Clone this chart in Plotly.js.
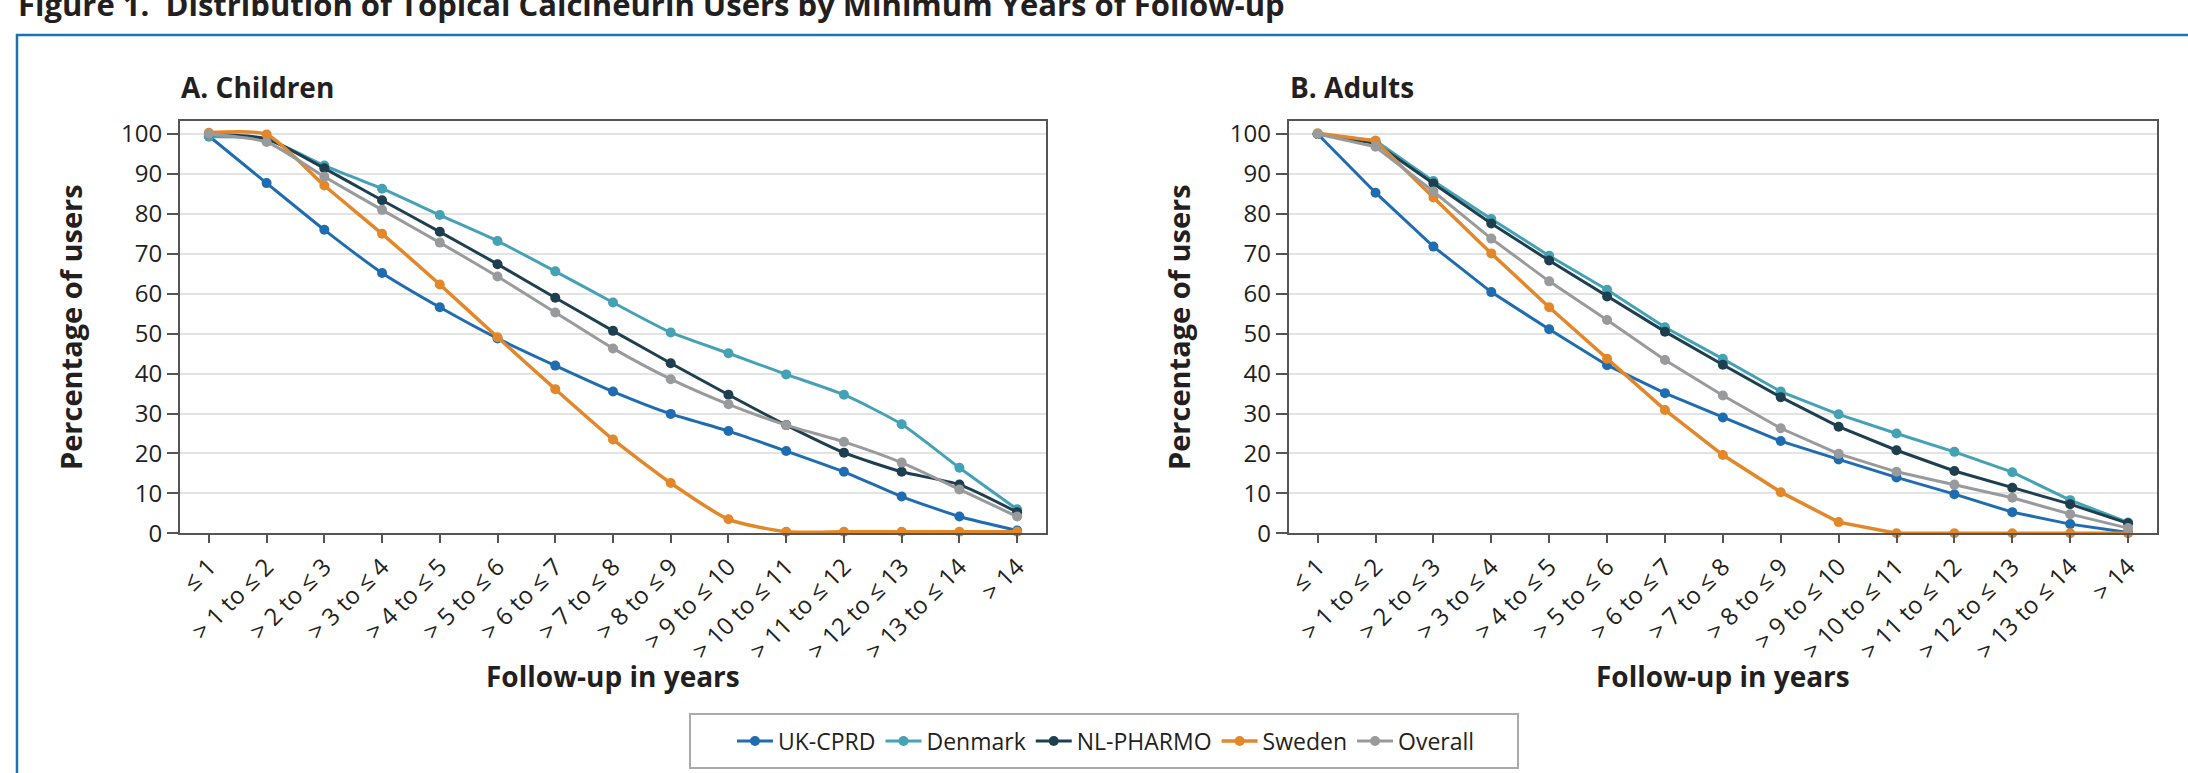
<!DOCTYPE html>
<html>
<head>
<meta charset="utf-8">
<script src="https://cdn.plot.ly/plotly-3.0.1.min.js"></script>
<style>html,body{margin:0;padding:0;background:#fff;}#chart{width:2188px;height:773px;}</style>
</head>
<body>
<div id="chart"></div>
<script>
// ---- data ----
const categories = ['≤ 1','> 1 to ≤ 2','> 2 to ≤ 3','> 3 to ≤ 4','> 4 to ≤ 5','> 5 to ≤ 6','> 6 to ≤ 7','> 7 to ≤ 8','> 8 to ≤ 9','> 9 to ≤ 10','> 10 to ≤ 11','> 11 to ≤ 12','> 12 to ≤ 13','> 13 to ≤ 14','> 14'];
const seriesNames = ['UK-CPRD','Denmark','NL-PHARMO','Sweden','Overall'];

const childrenUK      = [99.5, 87.7, 76.0, 65.2, 56.6, 48.8, 42.0, 35.5, 29.9, 25.6, 20.6, 15.4, 9.2, 4.2, 0.7];
const childrenDenmark = [99.3, 98.7, 92.1, 86.3, 79.7, 73.2, 65.6, 57.8, 50.3, 45.1, 39.8, 34.7, 27.3, 16.4, 6.0];
const childrenNL      = [100.0, 98.8, 91.4, 83.4, 75.5, 67.4, 59.0, 50.7, 42.6, 34.7, 27.1, 20.2, 15.4, 12.2, 5.3];
const childrenSweden  = [100.3, 99.9, 87.1, 75.0, 62.3, 49.1, 36.1, 23.5, 12.6, 3.5, 0.4, 0.4, 0.4, 0.4, 0.4];
const childrenOverall = [100.0, 98.0, 89.3, 81.0, 72.8, 64.3, 55.3, 46.3, 38.6, 32.3, 27.1, 22.9, 17.7, 11.0, 4.2];

const adultsUK      = [100.0, 85.3, 71.8, 60.4, 51.1, 42.1, 35.1, 29.0, 23.1, 18.5, 14.0, 9.8, 5.3, 2.3, 0.2];
const adultsDenmark = [100.0, 98.3, 88.2, 78.7, 69.5, 61.0, 51.6, 43.7, 35.5, 29.8, 25.0, 20.4, 15.3, 8.3, 2.7];
const adultsNL      = [100.0, 97.7, 87.6, 77.6, 68.3, 59.3, 50.5, 42.2, 34.1, 26.7, 20.8, 15.6, 11.4, 7.3, 2.5];
const adultsSweden  = [100.2, 98.3, 84.1, 70.1, 56.6, 43.7, 30.9, 19.6, 10.3, 2.8, 0.0, 0.0, 0.0, 0.0, 0.0];
const adultsOverall = [100.0, 96.8, 85.6, 73.8, 63.1, 53.4, 43.4, 34.5, 26.3, 19.9, 15.4, 12.2, 8.9, 4.8, 1.3];

const yTickVals = [0,10,20,30,40,50,60,70,80,90,100];
const panelTitles = ['A. Children','B. Adults'];
const xTitle = 'Follow-up in years';
const yTitle = 'Percentage of users';
const figTitle = 'Figure 1.  Distribution of Topical Calcineurin Users by Minimum Years of Follow-up';

// ---- styling ----
const colors = {'UK-CPRD':'#1f6db0','Denmark':'#45a2b4','NL-PHARMO':'#1d3f4f','Sweden':'#e3882a','Overall':'#999a9c'};
const W = 2188, H = 773;
const px = x => x / W;
const py = y => 1 - y / H;
const FONT = 'Open Sans, Lato, sans-serif';
const TXT = '#231f20';

const childrenData = [childrenUK, childrenDenmark, childrenNL, childrenSweden, childrenOverall];
const adultsData = [adultsUK, adultsDenmark, adultsNL, adultsSweden, adultsOverall];

const traces = [];
seriesNames.forEach((name, i) => {
  const lw = name === 'Sweden' ? 3.5 : 3;
  traces.push({
    type:'scatter', mode:'lines+markers', name:name, x:categories, y:childrenData[i],
    xaxis:'x', yaxis:'y', legendgroup:name, showlegend:true,
    line:{color:colors[name], width:lw, shape:'spline', smoothing:0.6},
    marker:{color:colors[name], size:10, symbol:'circle'}, cliponaxis:false
  });
});
seriesNames.forEach((name, i) => {
  const lw = name === 'Sweden' ? 3.5 : 3;
  traces.push({
    type:'scatter', mode:'lines+markers', name:name, x:categories, y:adultsData[i],
    xaxis:'x2', yaxis:'y2', legendgroup:name, showlegend:false,
    line:{color:colors[name], width:lw},
    marker:{color:colors[name], size:10, symbol:'circle'}, cliponaxis:false
  });
});

const yTop = 120.7, yBot = 533.3;
const yRange = [0, 100 * (yBot - yTop) / (yBot - 134)];

function xAxis(domain){
  return {
    domain:domain, type:'category', range:[-0.5, 14.5], automargin:false,
    showline:true, mirror:true, linecolor:'#555', linewidth:2,
    ticks:'outside', ticklen:8, tickwidth:2, tickcolor:'#555',
    tickangle:-45, tickfont:{family:FONT, size:24, color:TXT},
    showgrid:false, zeroline:false, fixedrange:true
  };
}
function yAxis(anchor){
  return {
    domain:[py(yBot), py(yTop)], anchor:anchor, range:yRange, automargin:false,
    tickvals:yTickVals, showline:true, mirror:true, linecolor:'#555', linewidth:2,
    ticks:'outside', ticklen:11, tickwidth:2, tickcolor:'#555',
    tickfont:{family:FONT, size:24, color:TXT},
    showgrid:true, gridcolor:'#e3e3e3', gridwidth:2, zeroline:false, fixedrange:true
  };
}

const L1 = 180, R1 = 1046, L2 = 1288.7, R2 = 2157;

const layout = {
  width:W, height:H, margin:{l:0,r:0,t:0,b:0,pad:0},
  paper_bgcolor:'#ffffff', plot_bgcolor:'#ffffff',
  font:{family:FONT, color:TXT},
  xaxis:Object.assign(xAxis([px(L1), px(R1)]), {anchor:'y'}),
  yaxis:yAxis('x'),
  xaxis2:Object.assign(xAxis([px(L2), px(R2)]), {anchor:'y2'}),
  yaxis2:yAxis('x2'),
  showlegend:true,
  legend:{orientation:'h', x:px(1106), xanchor:'center', y:py(741), yanchor:'middle',
          font:{family:FONT, size:23, color:TXT}, bgcolor:'rgba(0,0,0,0)', borderwidth:0,
          itemwidth:36},
  shapes:[
    {type:'rect', xref:'paper', yref:'paper', x0:px(17), x1:1.02, y0:-0.05, y1:py(35),
     line:{color:'#1b74ad', width:2.5}, fillcolor:'rgba(0,0,0,0)'},
    {type:'rect', xref:'paper', yref:'paper', x0:px(690), x1:px(1518), y0:py(768), y1:py(714),
     line:{color:'#aaaaaa', width:2}, fillcolor:'rgba(0,0,0,0)'}
  ],
  annotations:[
    {text:'<b>'+figTitle+'</b>', xref:'paper', yref:'paper', x:px(17), y:py(-18), xanchor:'left', yanchor:'top',
     showarrow:false, font:{family:FONT, size:31, color:TXT}, borderpad:0},
    {text:'<b>'+panelTitles[0]+'</b>', xref:'paper', yref:'paper', x:px(L1), y:py(67), xanchor:'left', yanchor:'top',
     showarrow:false, font:{family:FONT, size:28, color:TXT}, borderpad:0},
    {text:'<b>'+panelTitles[1]+'</b>', xref:'paper', yref:'paper', x:px(L2), y:py(67), xanchor:'left', yanchor:'top',
     showarrow:false, font:{family:FONT, size:28, color:TXT}, borderpad:0},
    {text:'<b>'+yTitle+'</b>', xref:'paper', yref:'paper', x:px(70), y:py(327), xanchor:'center', yanchor:'middle',
     textangle:-90, showarrow:false, font:{family:FONT, size:29, color:TXT}},
    {text:'<b>'+yTitle+'</b>', xref:'paper', yref:'paper', x:px(1178), y:py(327), xanchor:'center', yanchor:'middle',
     textangle:-90, showarrow:false, font:{family:FONT, size:29, color:TXT}},
    {text:'<b>'+xTitle+'</b>', xref:'paper', yref:'paper', x:px((L1+R1)/2), y:py(676), xanchor:'center', yanchor:'middle',
     showarrow:false, font:{family:FONT, size:28, color:TXT}},
    {text:'<b>'+xTitle+'</b>', xref:'paper', yref:'paper', x:px((L2+R2)/2), y:py(676), xanchor:'center', yanchor:'middle',
     showarrow:false, font:{family:FONT, size:28, color:TXT}}
  ]
};

Plotly.newPlot('chart', traces, layout, {displayModeBar:false, staticPlot:true});
</script>
</body>
</html>
